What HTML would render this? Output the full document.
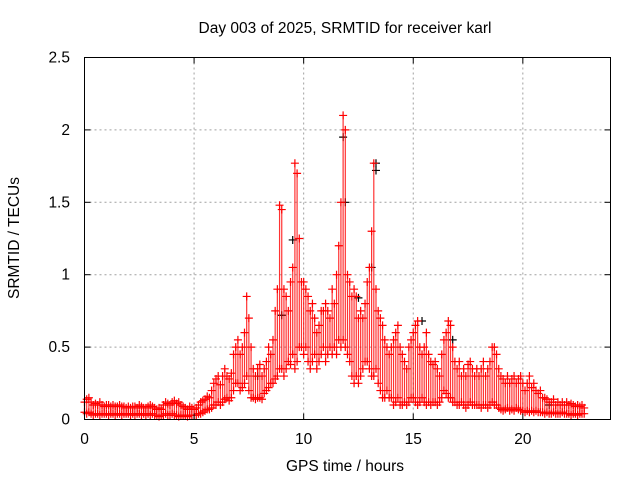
<!DOCTYPE html>
<html><head><meta charset="utf-8"><style>
body{margin:0;background:#fff}
svg{display:block;font-family:"Liberation Sans",sans-serif;font-size:15.5px}
</style></head><body>
<svg id="chart" width="640" height="480" viewBox="0 0 640 480" xmlns="http://www.w3.org/2000/svg">
<rect width="640" height="480" fill="#fff"/>
<text x="345" y="33" text-anchor="middle">Day 003 of 2025, SRMTID for receiver karl</text>
<g id="grid"></g>
<g id="marks"></g>
<rect x="84.5" y="57.5" width="526" height="362" fill="none" stroke="#000" stroke-width="1"/>
<g id="ticks"></g>
<text x="345" y="471" text-anchor="middle">GPS time / hours</text>
<text x="19" y="238" text-anchor="middle" transform="rotate(-90 19 238)">SRMTID / TECUs</text>
</svg>
<script>
const xTicks=[0,5,10,15,20];
const yTicks=[0,0.5,1,1.5,2,2.5];
const yTickLabels=["0","0.5","1","1.5","2","2.5"];
const tStart=0, tStep=0.1;
const hiVals=[0.12,0.14,0.15,0.12,0.1,0.11,0.1,0.12,0.1,0.09,0.1,0.1,0.09,0.1,0.09,0.09,0.1,0.09,0.09,0.08,0.09,0.08,0.09,0.09,0.08,0.1,0.09,0.08,0.08,0.09,0.1,0.09,0.08,0.07,0.08,0.07,0.1,0.12,0.11,0.1,0.12,0.13,0.11,0.12,0.1,0.09,0.08,0.07,0.09,0.08,
0.07,0.08,0.1,0.12,0.13,0.14,0.16,0.15,0.2,0.25,
0.28,0.3,0.24,0.3,0.35,0.3,0.28,0.32,0.45,0.5,
0.55,0.45,0.5,0.6,0.85,0.7,0.5,0.35,0.3,0.35,
0.38,0.3,0.35,0.4,0.5,0.45,0.55,0.75,0.9,1.48,
1.45,0.9,0.85,0.75,0.95,1.05,1.77,1.7,1.25,0.95,
0.95,0.9,0.85,0.75,0.8,0.7,0.6,0.65,0.75,0.75,
0.8,0.75,0.7,0.9,0.8,1.0,1.2,1.5,2.1,2.0,
1.0,0.95,0.85,0.9,0.85,0.7,0.75,0.7,0.8,0.95,
1.05,1.3,1.77,0.9,0.75,0.7,0.65,0.55,0.5,0.45,
0.5,0.55,0.6,0.65,0.5,0.45,0.4,0.35,0.5,0.55,
0.6,0.65,0.68,0.5,0.45,0.5,0.6,0.45,0.4,0.38,
0.4,0.35,0.3,0.45,0.55,0.6,0.68,0.65,0.5,0.4,
0.35,0.4,0.3,0.35,0.3,0.38,0.4,0.35,0.3,0.35,
0.3,0.35,0.4,0.3,0.35,0.4,0.5,0.5,0.45,0.35,
0.3,0.28,0.25,0.3,0.25,0.28,0.3,0.25,0.28,0.3,
0.25,0.2,0.25,0.3,0.22,0.25,0.2,0.18,0.2,0.15,
0.15,0.14,0.12,0.12,0.14,0.1,0.12,0.1,0.12,0.1,
0.12,0.1,0.11,0.1,0.09,0.1,0.09,0.1,0.08];
const loVals=[0.05,0.04,0.05,0.04,0.03,0.04,0.04,0.03,0.04,0.04,0.04,0.03,0.04,0.04,0.03,0.04,0.04,0.03,0.04,0.04,0.04,0.03,0.04,0.03,0.04,0.04,0.03,0.04,0.03,0.04,0.03,0.04,0.03,0.03,0.02,0.03,0.03,0.04,0.03,0.03,0.04,0.03,0.03,0.02,0.03,0.03,0.03,0.02,0.03,0.03,
0.03,0.03,0.04,0.04,0.05,0.06,0.07,0.07,0.08,0.1,
0.1,0.12,0.1,0.12,0.14,0.15,0.13,0.15,0.2,0.25,
0.25,0.2,0.22,0.25,0.3,0.2,0.15,0.15,0.14,0.15,
0.15,0.14,0.18,0.2,0.22,0.25,0.25,0.28,0.3,0.35,
0.35,0.3,0.35,0.4,0.38,0.45,0.35,0.4,0.5,0.5,
0.45,0.5,0.4,0.35,0.4,0.45,0.35,0.4,0.45,0.5,
0.4,0.45,0.5,0.45,0.5,0.45,0.55,0.5,0.55,0.5,
0.45,0.4,0.3,0.25,0.3,0.25,0.3,0.35,0.4,0.4,
0.35,0.3,0.3,0.35,0.25,0.2,0.15,0.15,0.2,0.15,
0.15,0.1,0.12,0.15,0.1,0.1,0.12,0.1,0.12,0.15,
0.15,0.12,0.1,0.12,0.15,0.12,0.1,0.12,0.1,0.12,
0.12,0.1,0.12,0.15,0.2,0.18,0.15,0.15,0.12,0.12,
0.1,0.1,0.12,0.1,0.08,0.1,0.12,0.1,0.1,0.1,
0.1,0.08,0.1,0.1,0.08,0.1,0.12,0.1,0.1,0.08,
0.07,0.06,0.07,0.08,0.06,0.07,0.06,0.08,0.07,0.06,
0.06,0.05,0.06,0.05,0.06,0.05,0.06,0.05,0.05,0.05,
0.04,0.05,0.04,0.04,0.05,0.04,0.04,0.04,0.05,0.04,
0.04,0.04,0.03,0.04,0.04,0.03,0.04,0.04,0.04];
const blackTimes=[9.5,11.8,11.9,13.3,13.3,12.5,15.4,7.9,13.1,9.0,16.8,21.2];
const blackVals=[1.24,1.95,1.5,1.77,1.72,0.84,0.68,0.3,1.05,0.72,0.55,0.1];

const NS="http://www.w3.org/2000/svg";
const X0=84.5,X1=610.5,Y0=419.5,Y1=57.5,XMAX=24,YMAX=2.5;
const xs=v=>X0+(X1-X0)*v/XMAX;
const ys=v=>Y0-(Y0-Y1)*v/YMAX;
const grid=document.getElementById('grid'),ticks=document.getElementById('ticks'),marks=document.getElementById('marks');
function mk(tag,attrs,parent){const e=document.createElementNS(NS,tag);for(const k in attrs)e.setAttribute(k,attrs[k]);parent.appendChild(e);return e;}
yTicks.forEach((v,i)=>{
  const y=ys(v);
  if(v>0&&v<YMAX){const g=mk('line',{x1:X0,x2:X1,y1:y,y2:y,stroke:'#a0a0a0','stroke-dasharray':'2,3'},grid);
  
  }
  mk('line',{x1:X0,x2:X0+6,y1:y,y2:y,stroke:'#000'},ticks);
  mk('line',{x1:X1,x2:X1-6,y1:y,y2:y,stroke:'#000'},ticks);
  const t=mk('text',{x:70,y:y+5,'text-anchor':'end'},ticks);t.textContent=yTickLabels[i];
  
  
});
xTicks.forEach(v=>{
  const x=xs(v);
  if(v>0){const g=mk('line',{x1:x,x2:x,y1:Y0,y2:Y1,stroke:'#a0a0a0','stroke-dasharray':'2,3'},grid);
  
  }
  mk('line',{x1:x,x2:x,y1:Y0,y2:Y0-6,stroke:'#000'},ticks);
  mk('line',{x1:x,x2:x,y1:Y1,y2:Y1+6,stroke:'#000'},ticks);
  const t=mk('text',{x:x,y:444,'text-anchor':'middle'},ticks);t.textContent=String(v);
  
  
});
function plus(x,y,c){const p=mk('path',{d:`M${x-4},${y}h8M${x},${y-4}v8`,stroke:c,'stroke-width':1.2,fill:'none'},marks);return p;}
blackTimes.forEach((t,i)=>{
  const p=plus(xs(t),ys(blackVals[i]),'#000');
  
  
});
hiVals.forEach((h,i)=>{
  const t=tStart+i*tStep,x=xs(t),l=loVals[i];
  const r=mk('line',{x1:x,x2:x,y1:ys(h),y2:ys(l),stroke:'#ff0000','stroke-width':1.2,'stroke-opacity':0.8},marks);
  
  
  const a=plus(x,ys(h),'#ff0000');
  
  
  const b=plus(x,ys(l),'#ff0000');
  
  
});
</script>
</body></html>
